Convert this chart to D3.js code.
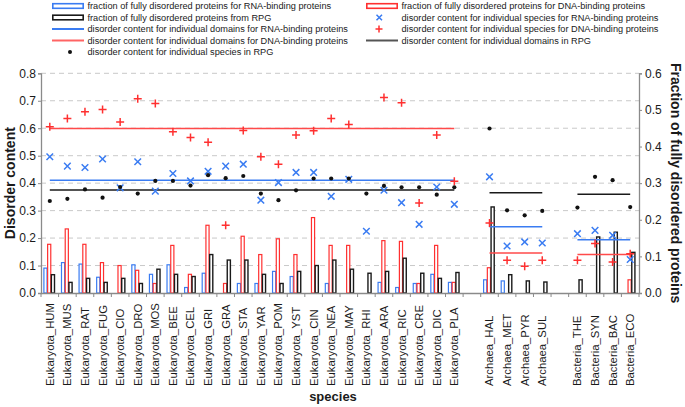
<!DOCTYPE html>
<html><head><meta charset="utf-8">
<script src="https://cdn.jsdelivr.net/npm/d3@7/dist/d3.min.js"></script>
<style>
body{margin:0;background:#fff}
svg{display:block}
text{font-family:"Liberation Sans",Arial,sans-serif;fill:#1a1a1a}
</style>
</head><body>
<svg id="chart" width="685" height="407"></svg>
<script>
// ---------------- DATA ----------------
const eukaryota = ["HUM","MUS","RAT","FUG","CIO","DRO","MOS","BEE","CEL","GRI","GRA","STA","YAR","POM","YST","CIN","NEA","MAY","RHI","ARA","RIC","CRE","DIC","PLA"];
const archaea = ["HAL","MET","PYR","SUL"];
const bacteria = ["THE","SYN","BAC","ECO"];
const species = [
  ...eukaryota.map(s => "Eukaryota_" + s),
  ...archaea.map(s => "Archaea_" + s),
  ...bacteria.map(s => "Bacteria_" + s)
];
// fraction of fully disordered proteins (right axis)
const fracRNA = [0.068,0.083,0.079,0.043,null,0.077,0.051,0.077,0.015,0.054,null,0.026,0.026,0.059,0.045,null,0.026,null,null,0.029,0.015,0.026,0.051,0.029,
                 0.036,0.033,null,null, null,null,null,null];
const fracDNA = [0.133,0.175,0.133,0.083,0.075,0.062,0.026,0.130,0.051,0.185,0.026,0.155,0.105,0.148,0.105,0.206,0.130,0.130,null,0.143,0.141,0.026,0.130,0.029,
                 0.069,null,null,null, null,null,null,0.036];
const fracRPG = [0.050,0.029,0.040,0.029,0.040,0.026,0.065,0.051,0.045,0.105,0.090,0.090,0.051,0.026,0.059,0.075,0.090,0.065,0.054,0.059,0.095,0.054,0.040,0.056,
                 0.235,0.050,0.033,0.030, 0.036,0.153,0.166,0.111];
// disorder content for individual species (left axis)
const speciesRNA = [0.496,0.462,0.457,0.488,0.383,0.478,0.371,0.435,0.408,0.443,0.462,0.469,0.338,0.402,0.439,0.439,0.352,0.414,0.225,0.374,0.329,0.250,0.386,0.323,
                    0.423,0.171,0.186,0.182, 0.216,0.228,0.210,0.122];
const speciesDNA = [0.605,0.635,0.660,0.668,0.623,0.707,0.690,0.587,0.566,0.549,0.247,0.592,0.496,0.469,0.575,0.591,0.635,0.614,null,0.712,0.693,0.328,0.575,0.407,
                    0.255,0.119,0.097,0.119, 0.119,0.180,0.113,0.143];
const speciesRPG = [0.335,0.343,0.377,0.347,0.386,0.362,0.408,0.408,0.391,0.429,0.418,0.426,0.362,0.338,0.374,0.417,0.417,0.417,0.362,0.390,0.385,0.385,0.358,0.385,
                    0.599,0.301,0.283,0.299, 0.311,0.423,0.411,0.313];
// disorder content for individual domains (left axis), per kingdom
const kingdoms = ["Eukaryota","Archaea","Bacteria"];
const domainRNA = [0.411,0.241,0.194];
const domainDNA = [0.599,0.146,0.140];
const domainRPG = [0.375,0.365,0.360];
const leftTicks = [0,0.1,0.2,0.3,0.4,0.5,0.6,0.7,0.8];
const rightTicks = [0,0.1,0.2,0.3,0.4,0.5,0.6];

// ---------------- LAYOUT ----------------
const svg = d3.select("#chart");
const L = 41, R = 639, T = 73.3, B = 293;
const slots = [...eukaryota.map(s=>"Eukaryota_"+s), "gap1", ...archaea.map(s=>"Archaea_"+s), "gap2", ...bacteria.map(s=>"Bacteria_"+s)];
const kingdomMembers = [eukaryota.map(s=>"Eukaryota_"+s), archaea.map(s=>"Archaea_"+s), bacteria.map(s=>"Bacteria_"+s)];

const x = d3.scaleBand().domain(slots).range([L, R]).padding(0);
const xc = d => x(d) + x.bandwidth()/2;
const inner = d3.scaleBand().domain(["rna","dna","rpg"]).range([2.6, 13.8]).padding(0);
const yL = d3.scaleLinear().domain([0,0.8]).range([B, T]);
const yR = d3.scaleLinear().domain([0,0.6]).range([B, T]);

const C = {blue:"#3a7cf2", red:"#ff3030", black:"#1a1a1a", redLine:"#ff4a4a"};

// gridlines
svg.append("g").selectAll("line").data(leftTicks.filter(d=>d>0)).join("line")
  .attr("x1", L).attr("x2", R).attr("y1", d=>yL(d)).attr("y2", d=>yL(d))
  .attr("stroke", "#c9c9c9").attr("stroke-width", 1).attr("stroke-dasharray", "5,4");

// bars
const barSeries = [
  {key:"rna", vals: fracRNA, color: C.blue, sw: 1.2},
  {key:"dna", vals: fracDNA, color: C.red, sw: 1.2},
  {key:"rpg", vals: fracRPG, color: C.black, sw: 1.4}
];
barSeries.forEach(s => {
  svg.append("g").selectAll("rect")
    .data(species.map((sp,i)=>({sp, v:s.vals[i]})).filter(d=>d.v!=null))
    .join("rect")
    .attr("x", d => x(d.sp) + inner(s.key) + 0.3)
    .attr("width", inner.bandwidth() - 0.6)
    .attr("y", d => yR(d.v))
    .attr("height", d => B - yR(d.v))
    .attr("fill", "#fff").attr("stroke", s.color).attr("stroke-width", s.sw);
});

// axes
const axisColor = "#8a8a8a";
const gx = svg.append("g").attr("transform", `translate(0,${B})`)
  .call(d3.axisBottom(x).tickSize(0).tickFormat(d => d.startsWith("gap") ? "" : d));
gx.select(".domain").attr("stroke", axisColor).attr("stroke-width", 1.3);
gx.selectAll(".tick text")
  .attr("transform", "rotate(-90)")
  .attr("text-anchor", "start")
  .attr("x", -(386 - B)).attr("y", 0).attr("dy", "0.35em")
  .style("font-size", "11.3px");
// tick marks between categories
svg.append("g").selectAll("line").data([...slots.map(d=>x(d)), R]).join("line")
  .attr("x1", d=>d).attr("x2", d=>d).attr("y1", B).attr("y2", B+4)
  .attr("stroke", axisColor).attr("stroke-width", 1);

const gl = svg.append("g").attr("transform", `translate(${L},0)`)
  .call(d3.axisLeft(yL).tickValues(leftTicks).tickFormat(d3.format(".1f")).tickSize(3).tickPadding(2));
gl.select(".domain").attr("stroke", axisColor).attr("stroke-width", 1.3);
gl.selectAll(".tick line").attr("stroke", axisColor);
gl.selectAll(".tick text").style("font-size", "12px").attr("fill", "#1a1a1a");

const gr = svg.append("g").attr("transform", `translate(${R},0)`)
  .call(d3.axisRight(yR).tickValues(rightTicks).tickFormat(d3.format(".1f")).tickSize(3).tickPadding(3));
gr.select(".domain").attr("stroke", axisColor).attr("stroke-width", 1.3);
gr.selectAll(".tick line").attr("stroke", axisColor);
gr.selectAll(".tick text").style("font-size", "12px").attr("fill", "#1a1a1a");

// domain lines
const lineSeries = [
  {vals: domainRPG, color: C.black},
  {vals: domainRNA, color: C.blue},
  {vals: domainDNA, color: C.redLine}
];
lineSeries.forEach(s => {
  svg.append("g").selectAll("line").data(kingdoms.map((k,i)=>({i, v:s.vals[i]}))).join("line")
    .attr("x1", d => xc(kingdomMembers[d.i][0]))
    .attr("x2", d => xc(kingdomMembers[d.i][kingdomMembers[d.i].length-1]))
    .attr("y1", d => yL(d.v)).attr("y2", d => yL(d.v))
    .attr("stroke", s.color).attr("stroke-width", 1.5);
});

// markers
const pts = (vals) => species.map((sp,i)=>({sp, v:vals[i]})).filter(d=>d.v!=null);
const m = 3.3;
svg.append("g").selectAll("path").data(pts(speciesRNA)).join("path")
  .attr("d", d => { const cx = xc(d.sp), cy = yL(d.v);
    return `M${cx-m},${cy-m}L${cx+m},${cy+m}M${cx-m},${cy+m}L${cx+m},${cy-m}`; })
  .attr("stroke", C.blue).attr("stroke-width", 1.5).attr("fill", "none");
svg.append("g").selectAll("path").data(pts(speciesDNA)).join("path")
  .attr("d", d => { const cx = xc(d.sp), cy = yL(d.v);
    return `M${cx-4},${cy}L${cx+4},${cy}M${cx},${cy-4}L${cx},${cy+4}`; })
  .attr("stroke", C.red).attr("stroke-width", 1.5).attr("fill", "none");
svg.append("g").selectAll("circle").data(pts(speciesRPG)).join("circle")
  .attr("cx", d => xc(d.sp)).attr("cy", d => yL(d.v)).attr("r", 2.1).attr("fill", "#111");

// axis titles
svg.append("text").attr("transform", `translate(10,${(T+B)/2}) rotate(-90)`)
  .attr("text-anchor","middle").attr("dy","0.35em")
  .style("font-size","14px").style("font-weight","bold").text("Disorder content");
svg.append("text").attr("transform", `translate(676,${(T+B)/2}) rotate(90)`)
  .attr("text-anchor","middle").attr("dy","0.35em")
  .style("font-size","14px").style("font-weight","bold").text("Fraction of fully disordered proteins");
svg.append("text").attr("x", 333).attr("y", 401).attr("text-anchor","middle")
  .style("font-size","13px").style("font-weight","bold").text("species");

// legend
const legendItems = [
  {col:0,row:0,type:"rect",color:C.blue,label:"fraction of fully disordered proteins for RNA-binding proteins"},
  {col:0,row:1,type:"rect",color:C.black,label:"fraction of fully disordered proteins from RPG"},
  {col:0,row:2,type:"line",color:C.blue,label:"disorder content for individual domains for RNA-binding proteins"},
  {col:0,row:3,type:"line",color:"#ff6464",label:"disorder content for individual domains for DNA-binding proteins"},
  {col:0,row:4,type:"dot",color:"#111",label:"disorder content for individual species in RPG"},
  {col:1,row:0,type:"rect",color:C.red,label:"fraction of fully disordered proteins for DNA-binding proteins"},
  {col:1,row:1,type:"x",color:C.blue,label:"disorder content for individual species for RNA-binding proteins"},
  {col:1,row:2,type:"plus",color:C.red,label:"disorder content for individual species for DNA-binding proteins"},
  {col:1,row:3,type:"line",color:"#555",label:"disorder content for individual domains in RPG"}
];
const colX = [52, 366], iconW = 32, rowY = r => 6 + r*11.5;
const lg = svg.append("g").selectAll("g").data(legendItems).join("g")
  .attr("transform", d => `translate(${colX[d.col]},${rowY(d.row)})`);
lg.each(function(d){
  const g = d3.select(this);
  if (d.type==="rect") g.append("rect").attr("x",0.8).attr("y",-2.3).attr("width",iconW-1.6).attr("height",4.6)
      .attr("fill","#fff").attr("stroke",d.color).attr("stroke-width",1.6);
  if (d.type==="line") g.append("line").attr("x1",0).attr("x2",iconW).attr("stroke",d.color).attr("stroke-width",2);
  if (d.type==="dot") g.append("circle").attr("cx",18).attr("r",2).attr("fill",d.color);
  if (d.type==="x") g.append("path").attr("d","M10.5,-2.8L16,2.8M10.5,2.8L16,-2.8").attr("stroke",d.color).attr("stroke-width",1.5);
  if (d.type==="plus") g.append("path").attr("d","M9.5,0L16.5,0M13,-3.5L13,3.5").attr("stroke",d.color).attr("stroke-width",1.5);
  g.append("text").attr("x", iconW+3.5).attr("dy","0.35em").style("font-size","9.2px").text(d.label);
});
</script>
</body></html>
